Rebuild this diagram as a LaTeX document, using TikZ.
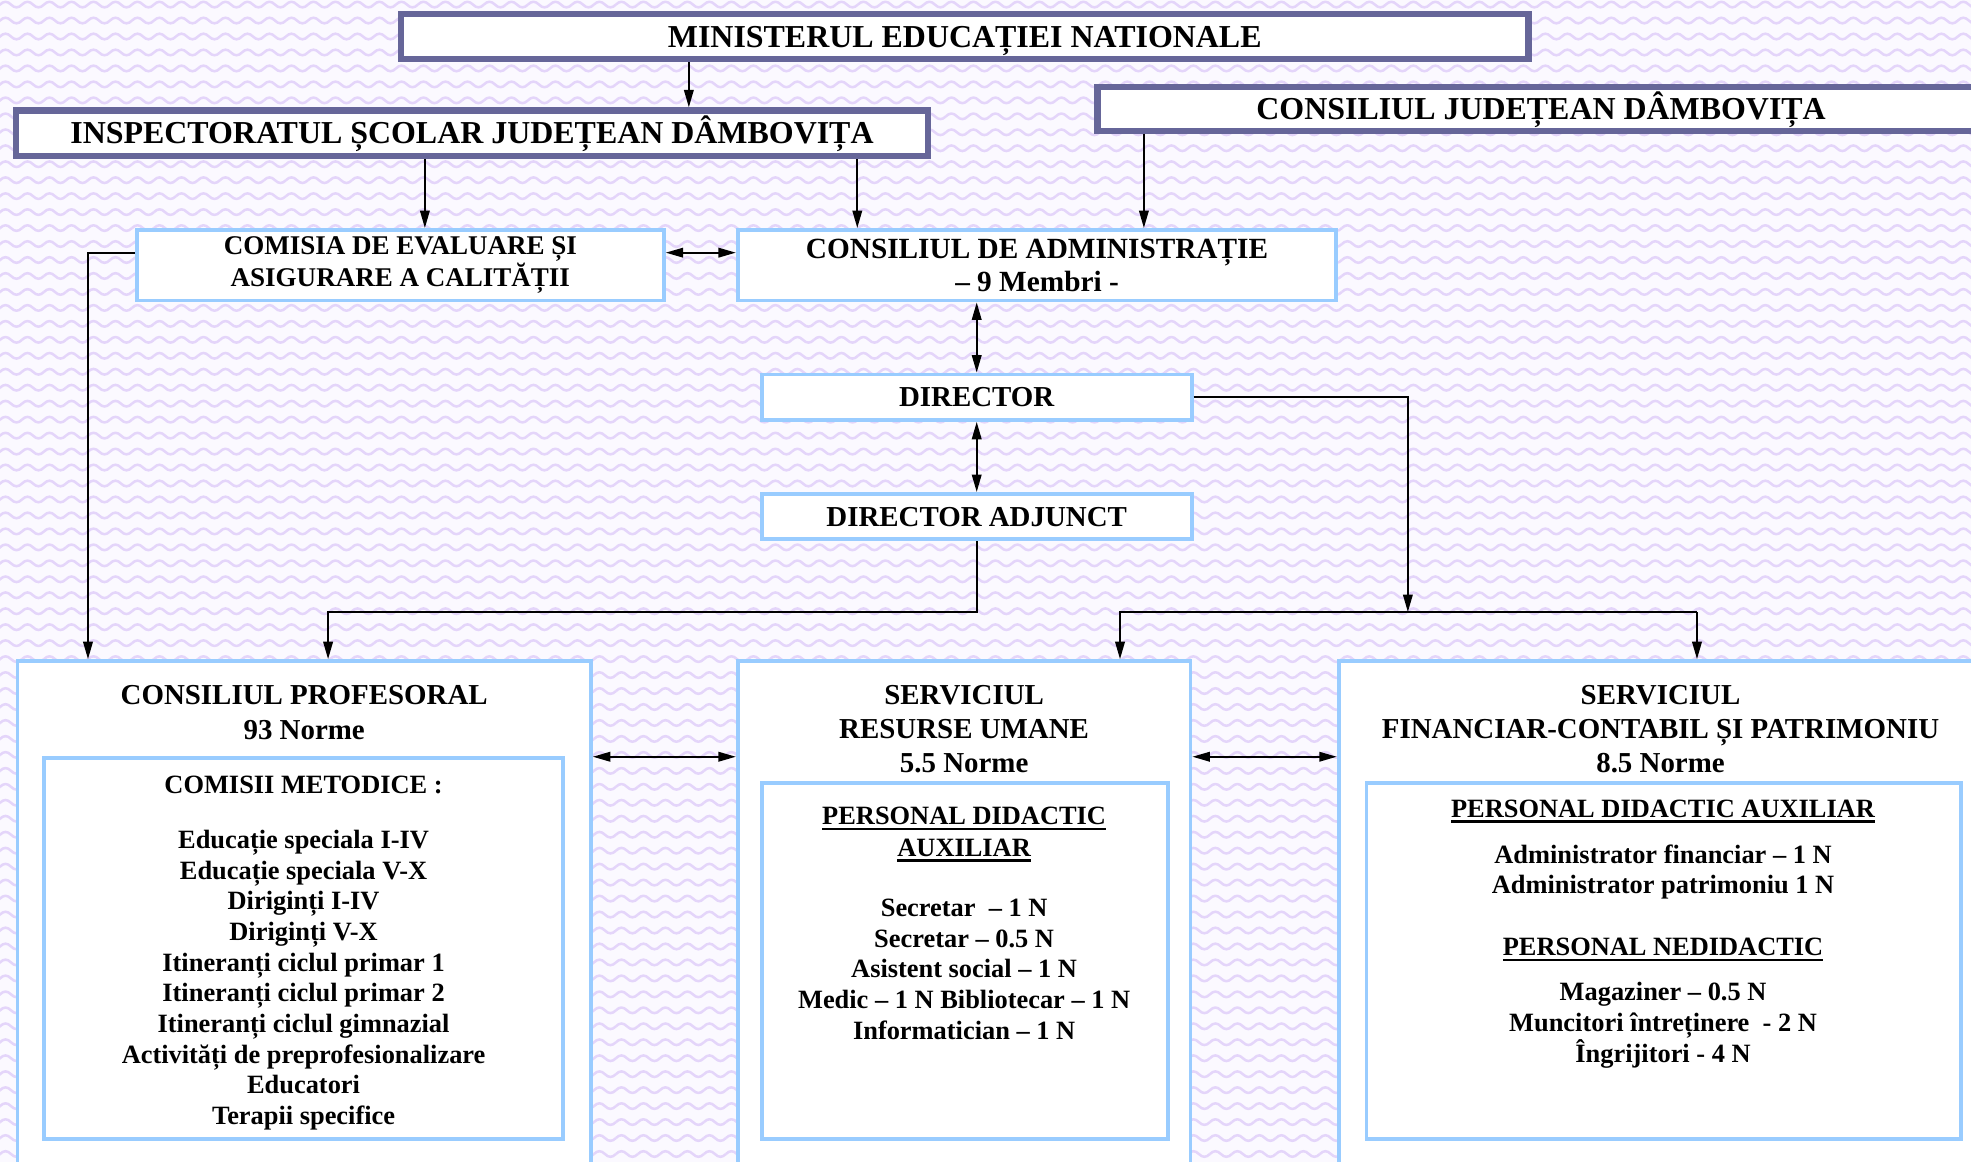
\documentclass[tikz,border=0pt]{standalone}
\usepackage{fontspec}
\setmainfont{Liberation Serif}
\usetikzlibrary{arrows.meta,patterns}
\definecolor{darkb}{HTML}{666699}
\definecolor{lightb}{HTML}{99CCFF}
\definecolor{bgc}{HTML}{FBF9FF}
\definecolor{wavec}{HTML}{E4D5FA}
\pgfdeclarepatternformonly{wavy}{\pgfqpoint{-2pt}{-2pt}}{\pgfqpoint{19.5pt}{14.7pt}}{\pgfqpoint{17.5pt}{12.7pt}}{%
  \pgfsetlinewidth{2pt}%
  \pgfpathmoveto{\pgfqpoint{0pt}{6.35pt}}%
  \pgfpathcurveto{\pgfqpoint{2.9pt}{9.3pt}}{\pgfqpoint{5.85pt}{9.3pt}}{\pgfqpoint{8.75pt}{6.35pt}}%
  \pgfpathcurveto{\pgfqpoint{11.65pt}{3.4pt}}{\pgfqpoint{14.6pt}{3.4pt}}{\pgfqpoint{17.5pt}{6.35pt}}%
  \pgfusepath{stroke}}
\newcommand{\myul}[1]{\setbox0\hbox{#1}\rlap{\vrule height -2.6pt depth 4.4pt width \wd0}\box0}
\tikzset{
 topbox/.style={draw=darkb, line width=5pt, fill=white, inner sep=0pt, font=\fontsize{25.4}{30}\selectfont\bfseries, text height=16.8pt, text depth=0pt},
 bluebox/.style={draw=lightb, line width=3pt, fill=white, inner sep=0pt},
 midtxt/.style={font=\fontsize{21.5}{24}\selectfont\bfseries, align=center},
 hd/.style={font=\fontsize{23}{27}\selectfont\bfseries, align=center, anchor=base, inner sep=0pt},
 lst/.style={font=\fontsize{21}{24.4}\selectfont\bfseries, align=center, anchor=base, inner sep=0pt},
 conn/.style={line width=1.8pt, draw=black},
 arr/.style={conn, -{Triangle[length=14pt,width=7.5pt]}},
 darr/.style={conn, {Triangle[length=14pt,width=7.5pt]}-{Triangle[length=14pt,width=7.5pt]}},
}
\begin{document}
\begin{tikzpicture}[x=1pt,y=-1pt]
\useasboundingbox (0,0) rectangle (1568,924.4);
\clip (0,0) rectangle (1568,924.4);
\fill[bgc] (0,0) rectangle (1568,924.4);
\fill[pattern=wavy, pattern color=wavec] (0,0) rectangle (1568,924.4);

% top level
\node[topbox, minimum width=897pt, minimum height=36pt] (min) at (767.5,29) {MINISTERUL EDUCAȚIEI NATIONALE};
\node[topbox, minimum width=725pt, minimum height=36pt] (insp) at (375.5,106) {INSPECTORATUL ȘCOLAR JUDEȚEAN DÂMBOVIȚA};
\node[topbox, minimum width=706pt, minimum height=35pt] (cj) at (1226,86.5) {CONSILIUL JUDEȚEAN DÂMBOVIȚA};

% second level
\node[bluebox, minimum width=419pt, minimum height=56pt, midtxt] (com) at (318.5,211) {COMISIA DE EVALUARE ȘI\\ASIGURARE A CALITĂȚII};
\node[bluebox, minimum width=476pt, minimum height=56pt, midtxt, font=\fontsize{23.3}{26}\selectfont\bfseries] (adm) at (825,211) {CONSILIUL DE ADMINISTRAȚIE\\– 9 Membri -};
\node[bluebox, minimum width=342pt, minimum height=36pt, font=\fontsize{23}{27}\selectfont\bfseries, text height=15.2pt, text depth=0pt] (dir) at (777,316) {DIRECTOR};
\node[bluebox, minimum width=342pt, minimum height=36pt, font=\fontsize{23}{27}\selectfont\bfseries, text height=15.2pt, text depth=0pt] (adj) at (777,411) {DIRECTOR ADJUNCT};

% consiliul profesoral (base anchors = baseline of last line)
\node[bluebox, minimum width=456pt, minimum height=414pt] (prof) at (242,733) {};
\node[bluebox, minimum width=413pt, minimum height=303pt] (profin) at (241.5,754.5) {};
\node[hd, font=\fontsize{23}{28}\selectfont\bfseries] (proft) at (242,588.6) {CONSILIUL PROFESORAL\\93 Norme};
\node[lst] (profh) at (241.5,631) {COMISII METODICE :};
\node[lst] (profl) at (241.5,894.6) {Educație speciala I-IV\\Educație speciala V-X\\Diriginți I-IV\\Diriginți V-X\\Itineranți ciclul primar 1\\Itineranți ciclul primar 2\\Itineranți ciclul gimnazial\\Activități de preprofesionalizare\\Educatori\\Terapii specifice};

% resurse umane
\node[bluebox, minimum width=360pt, minimum height=414pt] (ru) at (767,733) {};
\node[bluebox, minimum width=323pt, minimum height=283pt] (ruin) at (767.5,764.5) {};
\node[hd] (rut) at (767,614.6) {SERVICIUL\\RESURSE UMANE\\5.5 Norme};
\node[lst, font=\fontsize{21}{25}\selectfont\bfseries] (ruh) at (767,681) {\myul{PERSONAL DIDACTIC}\\\myul{AUXILIAR}};
\node[lst, font=\fontsize{21}{24.5}\selectfont\bfseries] (rul) at (767,827) {Secretar~ – 1 N\\Secretar – 0.5 N\\Asistent social – 1 N\\Medic – 1 N Bibliotecar – 1 N\\Informatician – 1 N};

% financiar
\node[bluebox, minimum width=512pt, minimum height=414pt] (fin) at (1321,733) {};
\node[bluebox, minimum width=473pt, minimum height=283pt] (finin) at (1323.5,764.5) {};
\node[hd] (fint) at (1321,614.6) {SERVICIUL\\FINANCIAR-CONTABIL ȘI PATRIMONIU\\8.5 Norme};
\node[lst] (finh1) at (1323,650) {\myul{PERSONAL DIDACTIC AUXILIAR}};
\node[lst, font=\fontsize{21}{24}\selectfont\bfseries] (finl1) at (1323,711) {Administrator financiar – 1 N\\Administrator patrimoniu 1 N};
\node[lst] (finh2) at (1323,760) {\myul{PERSONAL NEDIDACTIC}};
\node[lst, font=\fontsize{21}{24.5}\selectfont\bfseries] (finl2) at (1323,845) {Magaziner – 0.5 N\\Muncitori întreținere~ - 2 N\\Îngrijitori - 4 N};

% helper coordinates
\coordinate (cA) at (548,0);
\coordinate (cB) at (338,0);
\coordinate (cC) at (682,0);
\coordinate (cD) at (910,0);
\coordinate (cE) at (0,201);
\coordinate (cF) at (70,0);
\coordinate (j1) at (261,487);
\coordinate (j2) at (1120,487);
\coordinate (j3) at (891,487);
\coordinate (j4) at (1350,487);
\coordinate (cI) at (0,602);

% connectors
\draw[arr] (min.south -| cA) -- (insp.north -| cA);
\draw[arr] (insp.south -| cB) -- (com.north -| cB);
\draw[arr] (insp.south -| cC) -- (adm.north -| cC);
\draw[arr] (cj.south -| cD) -- (adm.north -| cD);
\draw[darr] (com.east |- cE) -- (adm.west |- cE);
\draw[arr] (com.west |- cE) -| (prof.north -| cF);
\draw[darr] (adm.south -| dir.north) -- (dir.north);
\draw[darr] (dir.south) -- (adj.north);
\draw[arr] (adj.south) |- (j1) -- (prof.north -| j1);
\draw[arr] (dir.east) -| (j2);
\draw[arr] (j4) -- (j3) -- (ru.north -| j3);
\draw[arr] (j4) -- (fin.north -| j4);
\draw[darr] (prof.east |- cI) -- (ru.west |- cI);
\draw[darr] (ru.east |- cI) -- (fin.west |- cI);
\end{tikzpicture}
\end{document}
